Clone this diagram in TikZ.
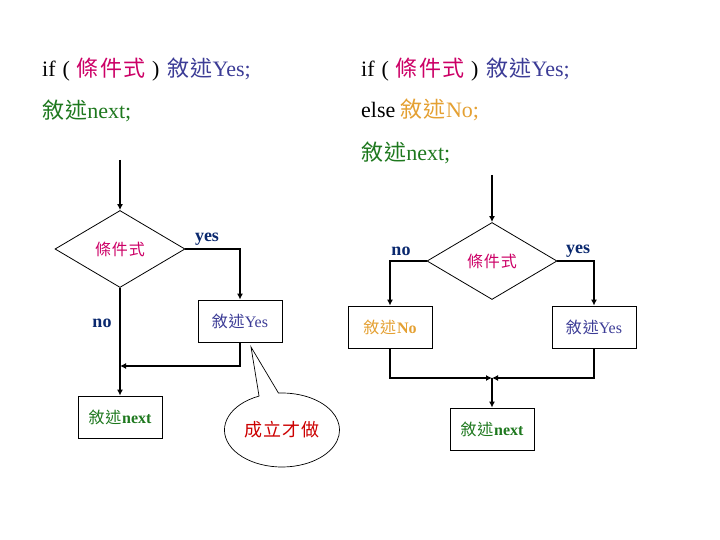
\documentclass[tikz,border=0pt]{standalone}
\usepackage{fontspec}
\setmainfont{Liberation Serif}
\newfontfamily\cjk[LetterSpace=5]{Noto Sans CJK TC}
\usetikzlibrary{arrows.meta,shapes.geometric,shapes.callouts}
\definecolor{condcol}{RGB}{204,0,102}
\definecolor{yescol}{RGB}{60,60,150}
\definecolor{nextcol}{RGB}{30,120,30}
\definecolor{nocol}{RGB}{228,160,50}
\definecolor{lblcol}{RGB}{10,40,110}
\definecolor{redcol}{RGB}{204,0,0}
\begin{document}
\begin{tikzpicture}[x=1pt,y=-1pt,
		code/.style={anchor=base west,inner sep=0pt,font=\fontsize{22}{26}\selectfont},
		decision/.style={draw,diamond,line width=0.8pt,minimum width=130pt,minimum height=77pt,aspect=1.69,inner sep=0pt,text=condcol,font=\fontsize{16}{18}\selectfont\cjk},
		stmt/.style={draw,rectangle,line width=0.8pt,minimum width=84pt,minimum height=42pt,font=\fontsize{16}{18}\selectfont},
		flow/.style={line width=2.8pt,-{Latex[length=6pt,width=6pt]}},
		lbl/.style={inner sep=0pt,text=lblcol,font=\fontsize{18}{20}\selectfont\bfseries}]
	\useasboundingbox (0,0) rectangle (720,540);
	\node [code] (lline1) at (42,77) {if\hspace{7pt}(\hspace{7pt}{\cjk\color{condcol}條件式}\hspace{7pt})\hspace{8pt}{\color{yescol}{\cjk 敘述}Yes;}};
	\node [code] (lline2) at (42,119) {\color{nextcol}{\cjk 敘述}next;};
	\node [code] (rline1) at (361,77) {if\hspace{7pt}(\hspace{7pt}{\cjk\color{condcol}條件式}\hspace{7pt})\hspace{8pt}{\color{yescol}{\cjk 敘述}Yes;}};
	\node [code] (rline2) at (361,118) {else {\color{nocol}{\cjk 敘述}No;}};
	\node [code] (rline3) at (361,161) {\color{nextcol}{\cjk 敘述}next;};
	\coordinate (ltop) at (120,160);
	\node [decision] (lcond) at (120,249) {條件式};
	\node [stmt,text=yescol] (lyes) at (240,321) {{\cjk 敘述}Yes};
	\node [stmt,text=nextcol] (lnext) at (120,417) {{\cjk 敘述}\textbf{next}};
	\coordinate (ljoin) at (120,366);
	\draw [flow] (ltop) -- (lcond.north);
	\draw [flow] (lcond.east) -| (lyes.north);
	\draw [flow] (lcond.south) -- (lnext.north);
	\draw [flow] (lyes.south) |- (ljoin);
	\node [lbl] (lyeslbl) at (207,239) {yes};
	\node [lbl] (lnolbl) at (102,323) {no};
	\coordinate (tip) at (251,347);
	\node [ellipse callout,draw,line width=0.7pt,minimum width=107pt,minimum height=74pt,callout absolute pointer={(tip)},callout pointer arc=20,text=redcol,font=\fontsize{18}{20}\selectfont\cjk] (done) at (282,430) {成立才做};
	\coordinate (rtop) at (492,175);
	\node [decision] (rcond) at (492,261) {條件式};
	\node [stmt,text=nocol] (rno) at (390,327) {{\cjk 敘述}\textbf{No}};
	\node [stmt,text=yescol] (ryes) at (594,327) {{\cjk 敘述}Yes};
	\node [stmt,text=nextcol] (rnext) at (492,429) {{\cjk 敘述}\textbf{next}};
	\coordinate (rjoin) at (492,378);
	\draw [flow] (rtop) -- (rcond.north);
	\draw [flow] (rcond.west) -| (rno.north);
	\draw [flow] (rcond.east) -| (ryes.north);
	\draw [flow] (rno.south) |- (rjoin);
	\draw [flow] (ryes.south) |- (rjoin);
	\draw [flow] (rjoin) -- (rnext.north);
	\node [lbl] (rnolbl) at (401,251) {no};
	\node [lbl] (ryeslbl) at (578,251) {yes};
\end{tikzpicture}
\end{document}
